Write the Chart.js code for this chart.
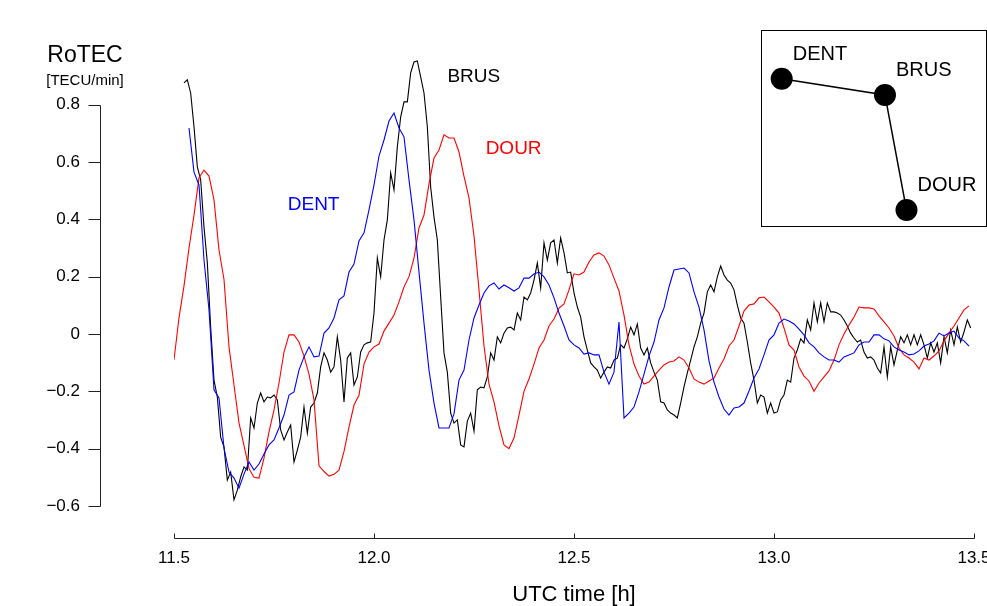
<!DOCTYPE html>
<html>
<head>
<meta charset="utf-8">
<script src="https://cdn.jsdelivr.net/npm/chart.js@4.4.1/dist/chart.umd.min.js"></script>
<style>
  html, body { margin: 0; padding: 0; background: #fff; overflow: hidden; }
  #wrap { position: relative; width: 987px; height: 606px; }
  #main { position: absolute; left: 0; top: 0; }
  #insetBox { position: absolute; left: 761px; top: 30px; width: 226px; height: 197px;
              border: 1px solid #000; box-sizing: border-box; background: #fff; }
  #inset { display: block; }
</style>
</head>
<body>
<div id="wrap">
  <canvas id="main" width="987" height="606"></canvas>
  <div id="insetBox"><canvas id="inset" width="224" height="195"></canvas></div>
</div>
<script>
// ---------------- DATA ----------------
const X_TICKS = [11.5, 12.0, 12.5, 13.0, 13.5];
const Y_TICKS = [-0.6, -0.4, -0.2, 0, 0.2, 0.4, 0.6, 0.8];

// BRUS: 30 s samples starting 11.525 h
const BRUS_START = 11.525;
const BRUS_STEP = 1 / 120;
const brusValues = [
  0.876, 0.887, 0.841, 0.723, 0.583, 0.538, 0.373, 0.248, 0.024, -0.161,
  -0.22, -0.36, -0.394, -0.51, -0.482, -0.579, -0.545, -0.499, -0.464, -0.475,
  -0.293, -0.328, -0.241, -0.206, -0.237, -0.22, -0.223, -0.213, -0.23, -0.335,
  -0.37, -0.342, -0.318, -0.447, -0.405, -0.36, -0.255, -0.346, -0.255, -0.241,
  -0.206, -0.115, -0.066, -0.091, -0.133, -0.115, -0.01, -0.091, -0.237, -0.084,
  -0.066, -0.178, -0.15, -0.063, -0.038, -0.031, -0.028, 0.073, 0.265, 0.199,
  0.328, 0.398, 0.562, 0.503, 0.653, 0.757, 0.81, 0.81, 0.911, 0.949,
  0.953, 0.897, 0.841, 0.723, 0.513, 0.408, 0.328, 0.129, -0.066, -0.133,
  -0.276, -0.311, -0.3, -0.387, -0.394, -0.304, -0.276, -0.339, -0.195, -0.185,
  -0.188, -0.15, -0.066, -0.091, -0.01, -0.031, 0.003, 0.021, 0.024, 0.014,
  0.073, 0.049, 0.129, 0.119, 0.143, 0.188, 0.248, 0.161, 0.318, 0.258,
  0.318, 0.328, 0.248, 0.335, 0.283, 0.213, 0.216, 0.143, 0.094, 0.059,
  -0.01, -0.056, -0.101, -0.115, -0.126, -0.154, -0.133, -0.115, -0.119, -0.091,
  -0.084, -0.038, -0.049, -0.017, 0.024, -0.003, 0.035, -0.049, -0.073, -0.049,
  -0.101, -0.133, -0.161, -0.237, -0.241, -0.265, -0.276, -0.283, -0.293, -0.241,
  -0.185, -0.136, -0.091, -0.045, -0.01, 0.038, 0.073, 0.147, 0.171, 0.147,
  0.199, 0.237, 0.206, 0.188, 0.178, 0.154, 0.101, 0.056, 0.038, -0.028,
  -0.101, -0.161, -0.241, -0.213, -0.22, -0.276, -0.241, -0.276, -0.272, -0.23,
  -0.213, -0.161, -0.168, -0.084, -0.056, -0.017, -0.031, 0.049, 0.014, 0.108,
  0.042, 0.108, 0.042, 0.108, 0.077, 0.077, 0.073, 0.066, 0.049, 0.028,
  0.003, -0.014, -0.028, -0.021, -0.063, -0.084, -0.08, -0.091, -0.119, -0.136,
  -0.045, -0.15, -0.045, -0.108, -0.056, -0.01, -0.031, -0.003, -0.038, -0.003,
  -0.038, -0.003, -0.038, -0.084, -0.031, -0.063, -0.031, -0.101, -0.01, -0.066,
  0.014, -0.038, 0.024, -0.028, 0.007, 0.049, 0.021
];

// DOUR: 45 s samples starting 11.5 h
const DOUR_START = 11.5;
const DOUR_STEP = 0.0125;
const dourValues = [
  -0.09, 0.056, 0.168, 0.30, 0.415, 0.545, 0.572, 0.551, 0.468, 0.293,
  0.19, -0.045, -0.178, -0.31, -0.39, -0.47, -0.50, -0.503, -0.433, -0.342,
  -0.265, -0.171, -0.063, -0.003, -0.003, -0.028, -0.077, -0.14, -0.23, -0.46,
  -0.48, -0.496, -0.49, -0.475, -0.41, -0.325, -0.248, -0.213, -0.105, -0.063,
  -0.045, -0.035, 0.01, 0.038, 0.066, 0.112, 0.164, 0.2, 0.265, 0.37,
  0.415, 0.524, 0.614, 0.642, 0.695, 0.684, 0.684, 0.635, 0.55, 0.475,
  0.342, 0.154, -0.042, -0.175, -0.237, -0.321, -0.387, -0.40, -0.363, -0.283,
  -0.2, -0.157, -0.105, -0.049, -0.021, 0.028, 0.052, 0.09, 0.105, 0.154,
  0.21, 0.206, 0.216, 0.251, 0.276, 0.283, 0.272, 0.241, 0.195, 0.15,
  0.066, -0.038, -0.105, -0.147, -0.175, -0.168, -0.147, -0.126, -0.108, -0.098,
  -0.094, -0.08, -0.091, -0.119, -0.157, -0.168, -0.175, -0.164, -0.154, -0.119,
  -0.087, -0.042, -0.021, 0.028, 0.08, 0.101, 0.105, 0.126, 0.129, 0.112,
  0.094, 0.073, 0.021, -0.038, -0.056, -0.115, -0.147, -0.164, -0.2, -0.171,
  -0.15, -0.129, -0.091, -0.038, 0, 0.031, 0.059, 0.094, 0.091, 0.091,
  0.087, 0.063, 0.042, 0.021, -0.007, -0.049, -0.073, -0.084, -0.098, -0.122,
  -0.084, -0.091, -0.077, -0.059, -0.024, 0.003, 0.028, 0.056, 0.084, 0.098
];

// DENT: 45 s samples starting 11.5375 h
const DENT_START = 11.5375;
const DENT_STEP = 0.0125;
const dentValues = [
  0.719, 0.565, 0.52, 0.258, 0.084, -0.195, -0.223, -0.398, -0.482, -0.503,
  -0.538, -0.489, -0.447, -0.475, -0.454, -0.419, -0.387, -0.37, -0.328, -0.283,
  -0.213, -0.202, -0.126, -0.08, -0.045, -0.08, -0.077, 0.003, 0.021, 0.056,
  0.119, 0.133, 0.216, 0.244, 0.325, 0.353, 0.433, 0.52, 0.621, 0.677,
  0.743, 0.771, 0.719, 0.688, 0.538, 0.398, 0.216, 0.038, -0.126, -0.241,
  -0.328, -0.328, -0.328, -0.279, -0.161, -0.126, -0.021, 0.056, 0.101, 0.143,
  0.168, 0.178, 0.157, 0.171, 0.161, 0.15, 0.161, 0.195, 0.195, 0.209,
  0.216, 0.199, 0.171, 0.126, 0.073, 0.028, -0.021, -0.038, -0.049, -0.07,
  -0.066, -0.073, -0.073, -0.133, -0.175, -0.133, 0.042, -0.293, -0.276, -0.255,
  -0.202, -0.14, -0.077, -0.028, 0.049, 0.091, 0.164, 0.223, 0.227, 0.23,
  0.213, 0.147, 0.094, 0.014, -0.094, -0.168, -0.22, -0.262, -0.283, -0.258,
  -0.255, -0.241, -0.199, -0.154, -0.122, -0.073, -0.021, -0.003, 0.038, 0.052,
  0.045, 0.035, 0.017, -0.003, -0.031, -0.045, -0.066, -0.08, -0.091, -0.091,
  -0.098, -0.08, -0.073, -0.066, -0.038, -0.028, -0.028, -0.003, -0.003, -0.017,
  -0.024, -0.045, -0.056, -0.063, -0.073, -0.07, -0.059, -0.042, -0.035, -0.024,
  0.003, -0.007, 0.003, 0.01, -0.014, -0.024, -0.042
];

// Curve name labels (time [h], RoTEC value)
const curveLabels = ['DENT', 'BRUS', 'DOUR'];
const curveLabelTime = [11.849, 12.2495, 12.349];
const curveLabelValue = [0.453, 0.901, 0.651];
const curveColors = ['#0000ff', '#000000', '#ff0000'];

// Inset map: station positions (lon, lat)
const stationNames = ['DENT', 'BRUS', 'DOUR'];
const stationLon = [3.40, 4.36, 4.56];
const stationLat = [50.90, 50.80, 50.09];

// ---------------- BUILD ----------------
function series(start, step, vals) {
  return vals.map((v, i) => ({ x: start + i * step, y: v }));
}
const FONT = "'Liberation Sans', Arial, Helvetica, sans-serif";

const axesPlugin = {
  id: 'rAxes',
  afterDraw(chart) {
    const ctx = chart.ctx;
    const xs = chart.scales.x, ys = chart.scales.y;
    const area = chart.chartArea;
    ctx.save();
    ctx.strokeStyle = '#222';
    ctx.lineWidth = 1;
    // y axis (R style, detached)
    const ax = 100.5;
    const yTop = ys.getPixelForValue(Y_TICKS[Y_TICKS.length - 1]);
    const yBot = ys.getPixelForValue(Y_TICKS[0]);
    ctx.beginPath();
    ctx.moveTo(ax, Math.round(yTop) + 0.5);
    ctx.lineTo(ax, Math.round(yBot) + 0.5);
    Y_TICKS.forEach(v => {
      const p = Math.round(ys.getPixelForValue(v)) + 0.5;
      ctx.moveTo(ax, p);
      ctx.lineTo(ax - 12, p);
    });
    ctx.stroke();
    // x axis
    const ay = Math.round(area.bottom) + 0.5;
    ctx.beginPath();
    ctx.moveTo(Math.round(xs.getPixelForValue(X_TICKS[0])) + 0.5, ay);
    ctx.lineTo(Math.round(xs.getPixelForValue(X_TICKS[X_TICKS.length - 1])) + 0.5, ay);
    X_TICKS.forEach(v => {
      const p = Math.round(xs.getPixelForValue(v)) + 0.5;
      ctx.moveTo(p, ay);
      ctx.lineTo(p, ay - 5);
    });
    ctx.stroke();
    // y title
    ctx.fillStyle = '#000';
    ctx.textAlign = 'center';
    ctx.textBaseline = 'alphabetic';
    ctx.font = '23px ' + FONT;
    ctx.fillText('RoTEC', 85, 62);
    ctx.font = '15px ' + FONT;
    ctx.fillText('[TECU/min]', 85, 85);
    // curve labels
    ctx.font = '19px ' + FONT;
    ctx.textBaseline = 'middle';
    curveLabels.forEach((name, i) => {
      ctx.fillStyle = curveColors[i];
      ctx.fillText(name, xs.getPixelForValue(curveLabelTime[i]),
                   ys.getPixelForValue(curveLabelValue[i]) + 1);
    });
    ctx.restore();
  }
};

function fmtY(v) {
  if (Math.abs(v) < 1e-9) return '0';
  return (v < 0 ? '\u2212' : '') + Math.abs(v).toFixed(1);
}

new Chart(document.getElementById('main'), {
  type: 'line',
  data: {
    datasets: [
      { label: 'DENT', data: series(DENT_START, DENT_STEP, dentValues),
        borderColor: '#0000ff', borderWidth: 1.1, pointRadius: 0, tension: 0, fill: false },
      { label: 'DOUR', data: series(DOUR_START, DOUR_STEP, dourValues),
        borderColor: '#ff0000', borderWidth: 1.1, pointRadius: 0, tension: 0, fill: false },
      { label: 'BRUS', data: series(BRUS_START, BRUS_STEP, brusValues),
        borderColor: '#000000', borderWidth: 1.1, pointRadius: 0, tension: 0, fill: false }
    ]
  },
  options: {
    responsive: false,
    devicePixelRatio: 1,
    animation: false,
    events: [],
    layout: { autoPadding: false, padding: { top: 48, right: 13, bottom: 0, left: 0 } },
    plugins: { legend: { display: false }, tooltip: { enabled: false }, title: { display: false } },
    scales: {
      x: {
        type: 'linear',
        min: 11.5, max: 13.5,
        grid: { display: false, drawTicks: false },
        border: { display: false },
        afterBuildTicks(s) { s.ticks = X_TICKS.map(v => ({ value: v })); },
        afterFit(s) { s.height = 68; s.paddingLeft = 0; s.paddingRight = 0; },
        ticks: {
          autoSkip: false, maxRotation: 0, minRotation: 0, padding: 10,
          color: '#000', font: { family: FONT, size: 17 },
          callback: v => Number(v).toFixed(1)
        },
        title: {
          display: true, text: 'UTC time [h]', color: '#000',
          font: { family: FONT, size: 22 }, padding: { top: 0, bottom: -2 }
        }
      },
      y: {
        type: 'linear',
        min: -0.712, max: 0.998,
        grid: { display: false, drawTicks: false },
        border: { display: false },
        afterBuildTicks(s) { s.ticks = Y_TICKS.map(v => ({ value: v })); },
        afterFit(s) { s.width = 174; s.paddingTop = 0; s.paddingBottom = 0; },
        ticks: {
          autoSkip: false, padding: 94, color: '#000',
          font: { family: FONT, size: 17 },
          callback: v => fmtY(v)
        }
      }
    }
  },
  plugins: [axesPlugin]
});

// ---------------- INSET ----------------
const insetLabels = {
  id: 'insetLabels',
  afterDatasetsDraw(chart) {
    const ctx = chart.ctx;
    const xs = chart.scales.x, ys = chart.scales.y;
    ctx.save();
    ctx.fillStyle = '#000';
    ctx.font = '20px ' + FONT;
    ctx.textAlign = 'left';
    ctx.textBaseline = 'alphabetic';
    stationNames.forEach((n, i) => {
      ctx.fillText(n, xs.getPixelForValue(stationLon[i]) + 11,
                   ys.getPixelForValue(stationLat[i]) - 19);
    });
    ctx.restore();
  }
};

new Chart(document.getElementById('inset'), {
  type: 'scatter',
  data: {
    datasets: [{
      data: stationLon.map((lon, i) => ({ x: lon, y: stationLat[i] })),
      showLine: true, borderColor: '#000', borderWidth: 1.5,
      pointRadius: 11, pointBackgroundColor: '#000', pointBorderColor: '#000',
      pointBorderWidth: 0, clip: false
    }]
  },
  options: {
    responsive: false, devicePixelRatio: 1, animation: false, events: [],
    layout: { autoPadding: false, padding: 0 },
    plugins: { legend: { display: false }, tooltip: { enabled: false } },
    scales: {
      x: { type: 'linear', display: false, min: 3.217, max: 5.299 },
      y: { type: 'linear', display: false, min: 49.991, max: 51.195 }
    }
  },
  plugins: [insetLabels]
});
</script>
</body>
</html>
